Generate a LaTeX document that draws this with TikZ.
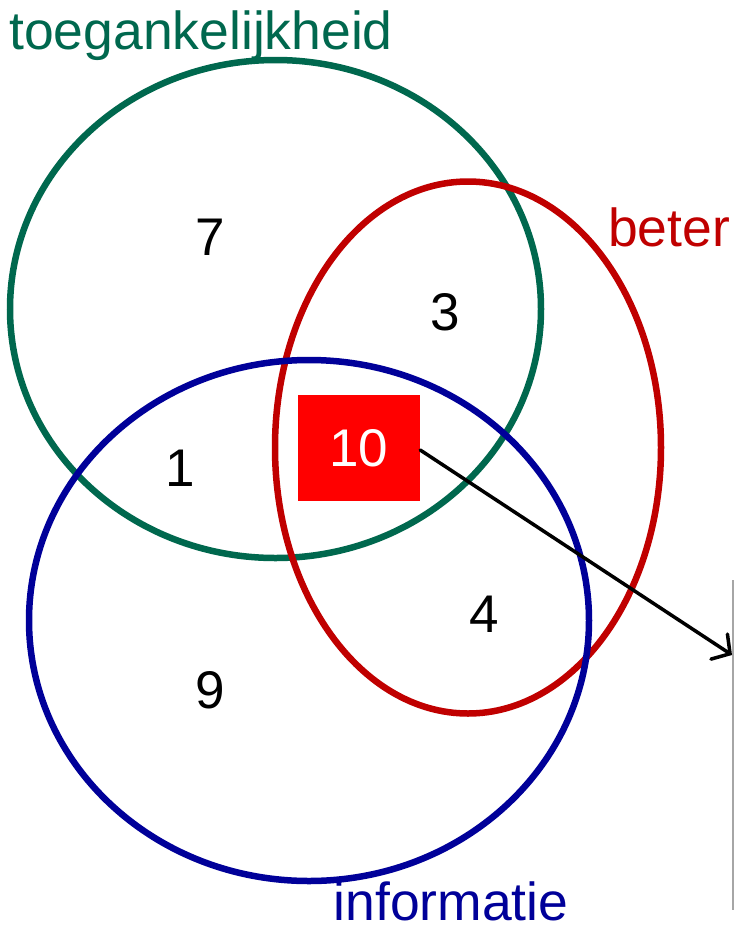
\documentclass[tikz,border=0pt]{standalone}
\usepackage{fontspec}
\setmainfont{Liberation Sans}
\usetikzlibrary{arrows.meta}
\definecolor{tgreen}{RGB}{0,104,78}
\definecolor{tred}{RGB}{192,0,0}
\definecolor{tblue}{RGB}{0,0,153}
\definecolor{boxred}{RGB}{255,0,0}
\tikzset{
  setring/.style={line width=6.5pt},
  num/.style={font=\fontsize{53}{60}\selectfont, inner sep=0pt},
  lbl/.style={font=\fontsize{53.5}{60}\selectfont, inner sep=0pt, anchor=base, text depth=0pt},
}
\begin{document}
\begin{tikzpicture}[x=1pt,y=-1pt]
\useasboundingbox (0,0) rectangle (734,930);
\fill[white] (0,0) rectangle (734,930);
% sets
\draw[setring, tgreen] (275.5,309) ellipse [x radius=265.5, y radius=249];
\draw[setring, tred] (468,447.5) ellipse [x radius=193, y radius=266];
\draw[setring, tblue] (309,620.5) ellipse [x radius=280, y radius=260.5];
% labels
\node[lbl, text=tgreen] (lt) at (201,49) {toegankelijkheid};
\node[lbl, text=tred] (lb) at (669,246) {beter};
\node[lbl, text=tblue] (li) at (451,920) {informatie};
% numbers
\node[num] (n7) at (210,237) {7};
\node[num] (n3) at (445,312) {3};
\node[num] (n1) at (180,468) {1};
\node[num] (n4) at (484,614) {4};
\node[num] (n9) at (210,690) {9};
\node[num, fill=boxred, text=white, minimum width=122pt, minimum height=106pt] (n10) at (359,448) {10};
% side line and arrow
\coordinate (vt) at (733,580);
\coordinate (vb) at (733,910);
\coordinate (ae) at (732,655);
\draw[gray!70, line width=1.8pt] (vt) -- (vb);
\draw[line width=3.5pt, line cap=round, -{Straight Barb[length=13pt,width=30pt,line cap=round]}] (n10.east |- 0,450) -- (ae);
\end{tikzpicture}
\end{document}
